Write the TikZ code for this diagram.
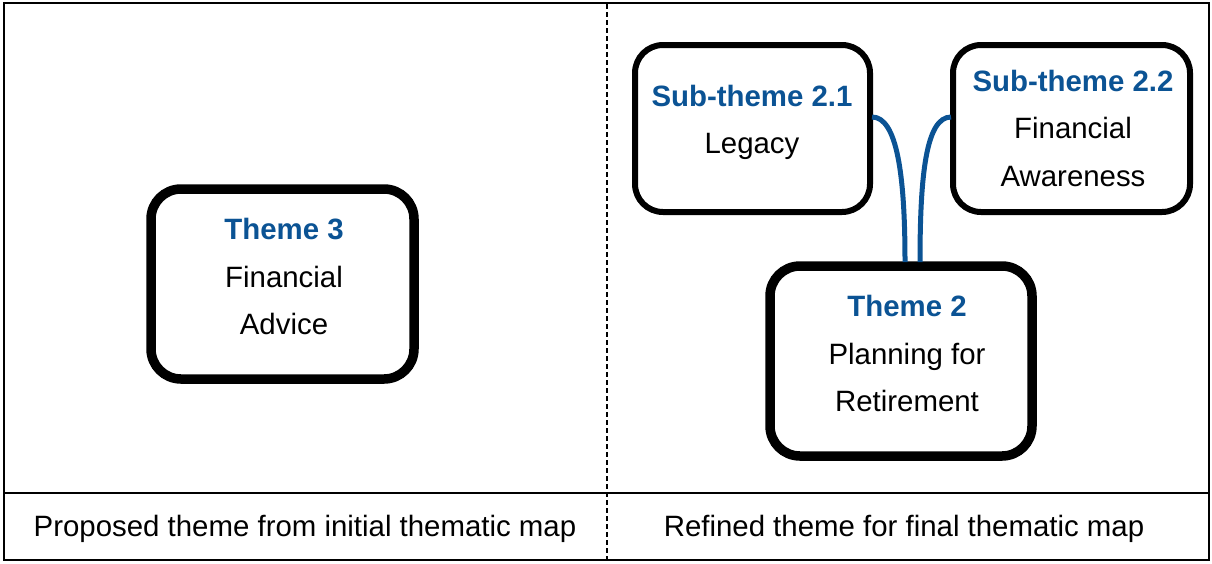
\documentclass[tikz,border=0pt]{standalone}
\usepackage{fontspec}
\setmainfont{Liberation Sans}
\definecolor{themeblue}{HTML}{0B5394}
\begin{document}
\begin{tikzpicture}[x=1pt,y=-1pt,
  frame/.style={draw=black,line width=2.5pt},
  divider/.style={draw=black,line width=2.6pt,dash pattern=on 4.5pt off 3.5pt},
  mainbox/.style={draw=black,line width=9.5pt,rounded corners=30pt,fill=white},
  subbox/.style={draw=black,line width=6pt,rounded corners=28pt,fill=white},
  link/.style={draw=themeblue,line width=5pt},
  txt/.style={anchor=base,inner sep=0pt,font=\fontsize{29.4}{34}\selectfont},
  head/.style={txt,text=themeblue,font=\fontsize{29.4}{34}\selectfont\bfseries}]
\useasboundingbox (0,0) rectangle (1212,563);
% outer frame and panels
\draw[frame] (4,3) rectangle (1209,560);
\coordinate (divL) at (4,493);
\coordinate (divR) at (1209,493);
\draw[frame] (divL) -- (divR);
\coordinate (dashT) at (607,4);
\coordinate (dashB) at (607,559);
\draw[divider] (dashT) -- (dashB);

% boxes
\path[mainbox] (151,189) rectangle (414,379);
\node[inner sep=0pt,minimum width=263pt,minimum height=190pt] (t3) at (282.5,284) {};
\path[subbox] (635,45) rectangle (870,212);
\node[inner sep=0pt,minimum width=235pt,minimum height=167pt] (s21) at (752.5,128.5) {};
\path[subbox] (953,45) rectangle (1190,212);
\node[inner sep=0pt,minimum width=237pt,minimum height=167pt] (s22) at (1071.5,128.5) {};
\path[mainbox] (770,266) rectangle (1032,456);
\node[inner sep=0pt,minimum width=262pt,minimum height=190pt] (t2) at (901,361) {};

% connectors between the sub-theme boxes and the theme box
\coordinate (l1) at (872,117);
\coordinate (l2) at (905,262);
\coordinate (r1) at (951,117);
\coordinate (r2) at (920,262);
\draw[link] (l1) .. controls (897,117) and (905,175) .. (l2);
\draw[link] (r1) .. controls (926,117) and (920,175) .. (r2);

% texts
\node[head] (t3a) at (284,239) {Theme 3};
\node[txt] (t3b) at (284,287) {Financial};
\node[txt] (t3c) at (284,334) {Advice};

\node[head] (s21a) at (752,106) {Sub-theme 2.1};
\node[txt] (s21b) at (752,153) {Legacy};

\node[head] (s22a) at (1073,91) {Sub-theme 2.2};
\node[txt] (s22b) at (1073,138) {Financial};
\node[txt] (s22c) at (1073,186) {Awareness};

\node[head] (t2a) at (907,316) {Theme 2};
\node[txt] (t2b) at (907,364) {Planning for};
\node[txt] (t2c) at (907,411) {Retirement};

\node[txt] (capL) at (305,536) {Proposed theme from initial thematic map};
\node[txt] (capR) at (904,536) {Refined theme for final thematic map};
\end{tikzpicture}
\end{document}
